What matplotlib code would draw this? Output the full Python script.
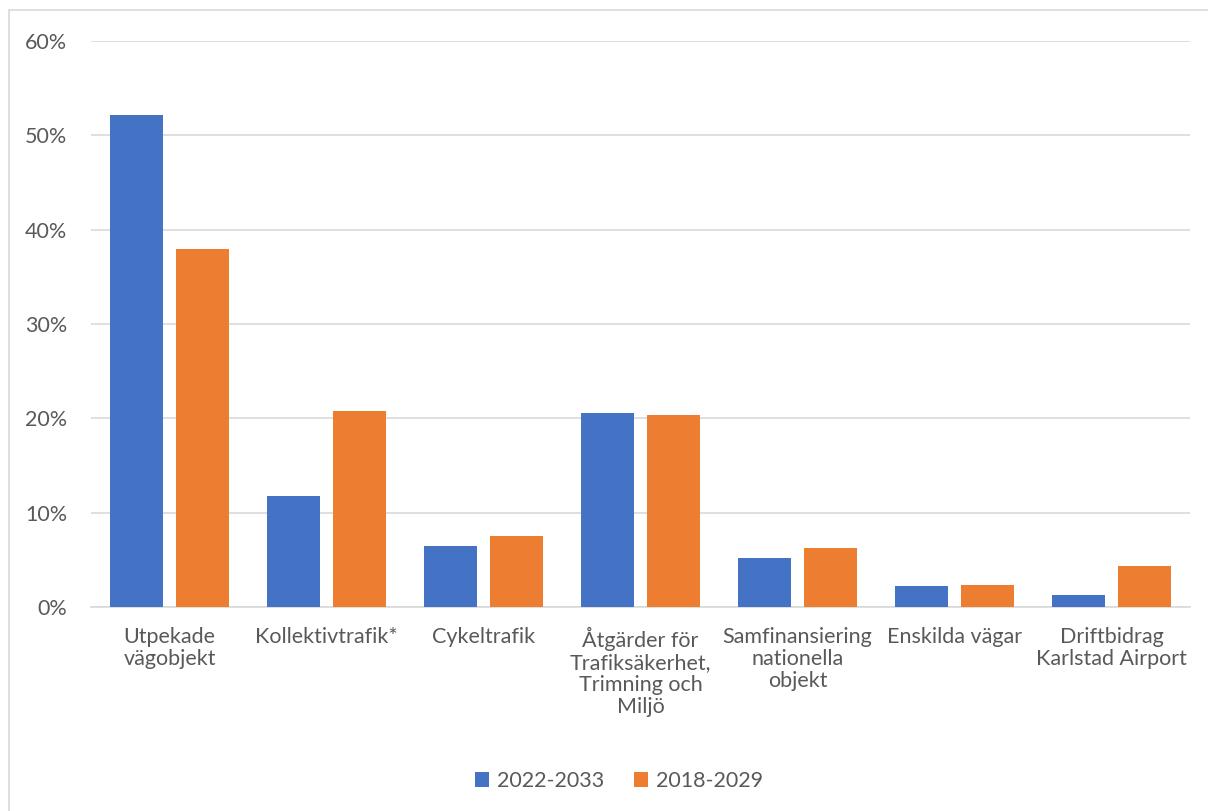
import matplotlib.pyplot as plt
from matplotlib.patches import Rectangle
from matplotlib.ticker import FuncFormatter
import numpy as np

categories = ['Utpekade\nvägobjekt', 'Kollektivtrafik*', 'Cykeltrafik',
              'Åtgärder för\nTrafiksäkerhet,\nTrimning och\nMiljö',
              'Samfinansiering\nnationella\nobjekt', 'Enskilda vägar',
              'Driftbidrag\nKarlstad Airport']
share_2022 = [52.2, 11.8, 6.5, 20.6, 5.2, 2.2, 1.3]
share_2018 = [38.0, 20.8, 7.5, 20.4, 6.3, 2.3, 4.3]
series_names = ['2022-2033', '2018-2029']

blue = '#4472C4'
orange = '#ED7D31'
grey_txt = '#595959'
grid_col = '#D9D9D9'

plt.rcParams['font.family'] = ['Lato', 'DejaVu Sans']

fig = plt.figure(figsize=(12.08, 8.11), dpi=100)
ax = fig.add_axes([91/1208, 1-607/811, (1190-91)/1208, (607-41)/811])

# chart border
fig.patches.append(Rectangle((9/1208, -0.01), 1.05, 1-10/811+0.01, transform=fig.transFigure,
                             fill=False, edgecolor=grid_col, lw=1.2))

x = np.arange(len(categories))
w = 0.337
off = w/2 + 0.039
ax.bar(x-off, share_2022, w, color=blue, label=series_names[0], zorder=3)
ax.bar(x+off, share_2018, w, color=orange, label=series_names[1], zorder=3)

ax.set_xlim(-0.5, len(categories)-0.5)
ax.set_ylim(0, 60)
ax.set_yticks(range(0, 61, 10))
ax.yaxis.set_major_formatter(FuncFormatter(lambda v, p: f'{int(v)}%'))
ax.grid(axis='y', color=grid_col, lw=1.2, zorder=0)
for s in ['top', 'right', 'left']:
    ax.spines[s].set_visible(False)
ax.spines['bottom'].set_color(grid_col)
ax.spines['bottom'].set_linewidth(1.2)
ax.tick_params(axis='both', length=0, labelsize=15.5, labelcolor=grey_txt)
ax.tick_params(axis='y', pad=17)
ax.tick_params(axis='x', pad=14.5)
ax.set_xticks(x)
ax.set_xticklabels(categories, linespacing=1.12)

leg = fig.legend(loc='center', bbox_to_anchor=(619/1208, 1-781/811), ncol=2, frameon=False,
                 fontsize=15.5, handlelength=0.65, handleheight=0.65, columnspacing=1.4,
                 handletextpad=0.35)
for t in leg.get_texts():
    t.set_color(grey_txt)

plt.savefig('out.png', dpi=100)
